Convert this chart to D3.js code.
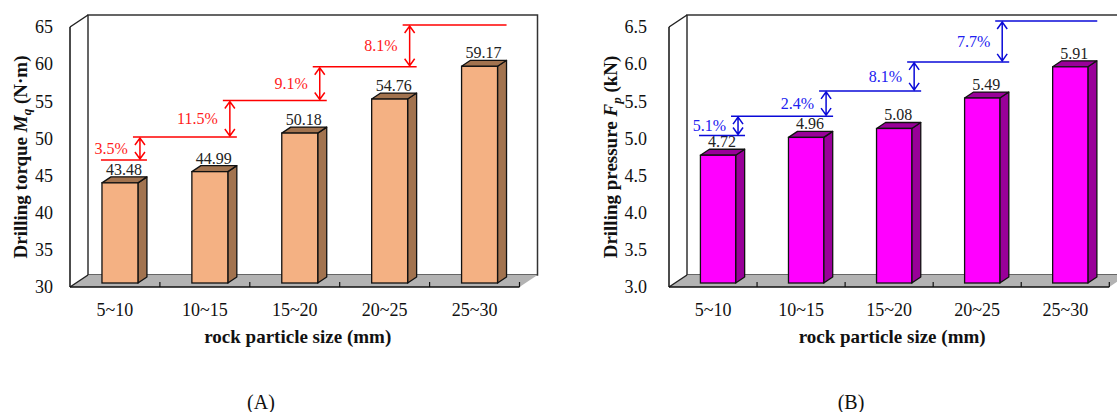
<!DOCTYPE html>
<html>
<head>
<meta charset="utf-8">
<script src="https://cdn.jsdelivr.net/npm/d3@7"></script>
<style>
  body { margin: 0; background: #fff; }
  svg text { font-family: "Liberation Serif", "Times New Roman", serif; }
</style>
</head>
<body>
<div id="chart"></div>
<script>
// data
var categories = ["5~10", "10~15", "15~20", "20~25", "25~30"];
var torque = [43.48, 44.99, 50.18, 54.76, 59.17];
var pressure = [4.72, 4.96, 5.08, 5.49, 5.91];
var torqueRise = ["3.5%", "11.5%", "9.1%", "8.1%"];
var pressureRise = ["5.1%", "2.4%", "8.1%", "7.7%"];
// levels of the horizontal marker lines (in axis units)
var torqueLevels = [47.1, 50.2, 55.1, 59.65, 65.27];
var pressureLevels = [5.04, 5.30, 5.64, 6.03, 6.58];
var torqueTicks = [30, 35, 40, 45, 50, 55, 60, 65];
var pressureTicks = [3.0, 3.5, 4.0, 4.5, 5.0, 5.5, 6.0, 6.5];

var svg = d3.select("#chart")
    .append("svg")
    .attr("width", 1117)
    .attr("height", 412)
    .attr("font-family", "Liberation Serif, Times New Roman, serif");

function drawPanel(o) {
    var g = svg.append("g");
    var depth = { x: 18, y: -12 };   // back wall offset
    var side = { x: 9, y: -6 };      // bar depth

    var x = d3.scaleBand().domain(categories).range([o.left, o.right]);
    var y = d3.scaleLinear().domain(o.domain).range([287, 27]);
    var yb = function (v) { return y(v) - 4; };  // bars stand a bit back

    var top = y(o.domain[1]) + depth.y,
        bot = y(o.domain[0]);

    // back wall
    g.append("rect")
        .attr("x", o.left + depth.x).attr("y", top)
        .attr("width", o.right - o.left).attr("height", bot + depth.y - top)
        .attr("fill", "#fff").attr("stroke", "#333").attr("stroke-width", 1.5);

    // floor
    g.append("path")
        .attr("d", "M" + o.left + "," + bot + "L" + (o.left + depth.x) + "," + (bot + depth.y) +
            "L" + (o.right + depth.x) + "," + (bot + depth.y) + "L" + o.right + "," + bot + "Z")
        .attr("fill", "#b3b3b3");

    // left wall edges
    g.append("path")
        .attr("d", "M" + o.left + "," + y(o.domain[1]) + "L" + (o.left + depth.x) + "," + top +
            "M" + o.left + "," + bot + "L" + (o.left + depth.x) + "," + (bot + depth.y))
        .attr("fill", "none").attr("stroke", "#222").attr("stroke-width", 1.5);

    // front axes
    g.append("line")
        .attr("x1", o.left).attr("x2", o.left)
        .attr("y1", y(o.domain[1])).attr("y2", bot)
        .attr("stroke", "#111").attr("stroke-width", 1.5);
    g.append("line")
        .attr("x1", o.left).attr("x2", o.right)
        .attr("y1", bot).attr("y2", bot)
        .attr("stroke", "#111").attr("stroke-width", 1.5);

    // category ticks
    g.selectAll(".ctick")
        .data(categories)
        .enter().append("line")
        .attr("x1", function (d) { return x(d) + x.bandwidth(); })
        .attr("x2", function (d) { return x(d) + x.bandwidth(); })
        .attr("y1", bot).attr("y2", bot - 5)
        .attr("stroke", "#111").attr("stroke-width", 1.2);

    // y tick labels
    var yAxis = d3.axisLeft(y).tickValues(o.ticks).tickSize(0)
        .tickPadding(o.pad).tickFormat(o.fmt);
    var ya = g.append("g").attr("transform", "translate(" + o.left + ",0)").call(yAxis);
    ya.attr("font-family", null);
    ya.select(".domain").remove();
    ya.selectAll("text").attr("font-size", 18).attr("fill", "#111");

    // category labels
    g.selectAll(".clabel")
        .data(categories)
        .enter().append("text")
        .attr("x", function (d) { return x(d) + x.bandwidth() / 2; })
        .attr("y", 316)
        .attr("text-anchor", "middle")
        .attr("font-size", 18)
        .attr("fill", "#111")
        .text(function (d) { return d; });

    // bars
    var bw = x.bandwidth() * 0.4;
    var bx = function (d, i) { return x(categories[i]) + x.bandwidth() / 2 + 5 - bw / 2; };
    var bars = g.selectAll(".bar")
        .data(o.values)
        .enter().append("g");

    bars.append("path")  // side face
        .attr("d", function (d, i) {
            var x1 = bx(d, i) + bw;
            return "M" + x1 + "," + yb(o.domain[0]) + "L" + (x1 + side.x) + "," + (yb(o.domain[0]) + side.y) +
                "L" + (x1 + side.x) + "," + (yb(d) + side.y) + "L" + x1 + "," + yb(d) + "Z";
        })
        .attr("fill", o.dark).attr("stroke", "#111").attr("stroke-width", 1.3)
        .attr("stroke-linejoin", "round");

    bars.append("path")  // top face
        .attr("d", function (d, i) {
            var x0 = bx(d, i);
            return "M" + x0 + "," + yb(d) + "L" + (x0 + side.x) + "," + (yb(d) + side.y) +
                "L" + (x0 + bw + side.x) + "," + (yb(d) + side.y) + "L" + (x0 + bw) + "," + yb(d) + "Z";
        })
        .attr("fill", o.dark).attr("stroke", "#111").attr("stroke-width", 1.3)
        .attr("stroke-linejoin", "round");

    bars.append("rect")  // front face
        .attr("x", bx)
        .attr("y", function (d) { return yb(d); })
        .attr("width", bw)
        .attr("height", function (d) { return yb(o.domain[0]) - yb(d); })
        .attr("fill", o.light).attr("stroke", "#111").attr("stroke-width", 1.3);

    // value labels
    g.selectAll(".vlabel")
        .data(o.values)
        .enter().append("text")
        .attr("x", function (d, i) { return bx(d, i) + bw / 2 + 4; })
        .attr("y", function (d) { return yb(d) + side.y - 2; })
        .attr("text-anchor", "middle")
        .attr("font-size", 16)
        .attr("fill", "#222")
        .text(function (d) { return o.fmtVal(d); });

    // increase markers
    var c = function (i) { return x(categories[i]) + x.bandwidth() / 2; };
    g.selectAll(".level")
        .data(o.levels)
        .enter().append("line")
        .attr("x1", function (d, i) { return i === 0 ? c(0) - 14 : c(i - 1) + 18; })
        .attr("x2", function (d, i) { return c(i) + 32; })
        .attr("y1", function (d) { return y(d); })
        .attr("y2", function (d) { return y(d); })
        .attr("stroke", o.mark).attr("stroke-width", 1.5);

    g.selectAll(".arrow")
        .data(o.rise)
        .enter().append("path")
        .attr("d", function (d, i) {
            var ax = c(i) + 25, y1 = y(o.levels[i + 1]) + 1, y2 = y(o.levels[i]) - 1;
            return "M" + ax + "," + y1 + "L" + ax + "," + y2 +
                "M" + (ax - 5) + "," + (y1 + 7) + "L" + ax + "," + y1 + "L" + (ax + 5) + "," + (y1 + 7) +
                "M" + (ax - 5) + "," + (y2 - 7) + "L" + ax + "," + y2 + "L" + (ax + 5) + "," + (y2 - 7);
        })
        .attr("fill", "none").attr("stroke", o.mark).attr("stroke-width", 1.5);

    g.selectAll(".rise")
        .data(o.rise)
        .enter().append("text")
        .attr("x", function (d, i) { return c(i) + 25 - 12; })
        .attr("y", function (d, i) { return (y(o.levels[i + 1]) + y(o.levels[i])) / 2 + 5.5; })
        .attr("text-anchor", "end")
        .attr("font-size", 16)
        .attr("fill", o.markText)
        .text(function (d) { return d; });

    // axis titles
    g.append("text")
        .attr("x", (o.left + o.right) / 2 + 3)
        .attr("y", 343)
        .attr("text-anchor", "middle")
        .attr("font-size", 19)
        .attr("font-weight", "bold")
        .attr("fill", "#111")
        .text("rock particle size (mm)");

    var yt = g.append("text")
        .attr("transform", "translate(" + o.titleX + ",157) rotate(-90)")
        .attr("text-anchor", "middle")
        .attr("font-size", 19)
        .attr("font-weight", "bold")
        .attr("fill", "#111");
    yt.append("tspan").text(o.title[0]);
    yt.append("tspan").attr("font-style", "italic").text(o.title[1]);
    yt.append("tspan").attr("font-style", "italic").attr("font-size", 13).attr("dy", 4).text(o.title[2]);
    yt.append("tspan").attr("dy", -4).text(o.title[3]);

    // panel label
    svg.append("text")
        .attr("x", o.panelX)
        .attr("y", 409)
        .attr("text-anchor", "middle")
        .attr("font-size", 20)
        .attr("fill", "#111")
        .text(o.panel);
}

drawPanel({
    left: 70, right: 519.5,
    domain: [30, 65], ticks: torqueTicks, pad: 17, fmt: d3.format("d"),
    values: torque, fmtVal: d3.format(".2f"),
    levels: torqueLevels, rise: torqueRise,
    light: "#f4b183", dark: "#a2734f",
    mark: "#ff0000", markText: "#ff1a1a",
    title: ["Drilling torque ", "M", "q", " (N\u00b7m)"],
    titleX: 27,
    panel: "(A)", panelX: 261
});

drawPanel({
    left: 669, right: 1109.3,
    domain: [3.0, 6.5], ticks: pressureTicks, pad: 22, fmt: d3.format(".1f"),
    values: pressure, fmtVal: d3.format(".2f"),
    levels: pressureLevels, rise: pressureRise,
    light: "#ff00ff", dark: "#990099",
    mark: "#0a0ad8", markText: "#2020f0",
    title: ["Drilling pressure ", "F", "p", " (kN)"],
    titleX: 617,
    panel: "(B)", panelX: 851
});
</script>
</body>
</html>
